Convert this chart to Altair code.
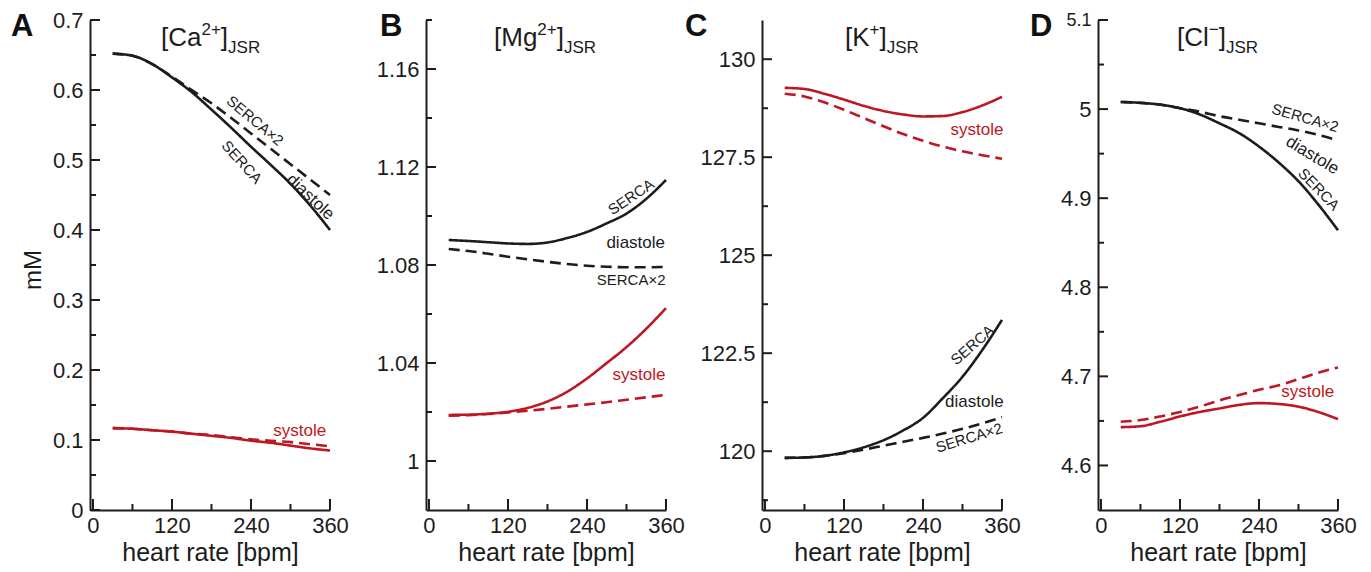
import altair as alt
import pandas as pd

# ---------------- data ----------------
BPM = [30, 60, 90, 120, 150, 180, 210, 240, 270, 300, 330, 360]

# A: [Ca2+]JSR (mM)
CA_DIA_SERCA  = [0.652, 0.649, 0.637, 0.618, 0.597, 0.572, 0.546, 0.519, 0.493, 0.466, 0.435, 0.400]
CA_DIA_SERCA2 = [0.652, 0.649, 0.637, 0.619, 0.600, 0.581, 0.560, 0.538, 0.516, 0.494, 0.472, 0.450]
CA_SYS_SERCA  = [0.117, 0.116, 0.114, 0.112, 0.109, 0.106, 0.103, 0.099, 0.096, 0.092, 0.088, 0.085]
CA_SYS_SERCA2 = [0.117, 0.116, 0.114, 0.112, 0.109, 0.107, 0.104, 0.101, 0.099, 0.097, 0.094, 0.091]

# B: [Mg2+]JSR
MG_DIA_SERCA  = [1.0902, 1.0898, 1.0893, 1.0888, 1.0886, 1.0892, 1.0910, 1.0935, 1.0970, 1.1010, 1.1070, 1.1147]
MG_DIA_SERCA2 = [1.0865, 1.0857, 1.0846, 1.0834, 1.0823, 1.0813, 1.0804, 1.0797, 1.0793, 1.0791, 1.0791, 1.0792]
MG_SYS_SERCA  = [1.0188, 1.0189, 1.0193, 1.0201, 1.0217, 1.0243, 1.0283, 1.0337, 1.0400, 1.0465, 1.0540, 1.0624]
MG_SYS_SERCA2 = [1.0185, 1.0187, 1.0192, 1.0198, 1.0205, 1.0213, 1.0222, 1.0231, 1.0240, 1.0250, 1.0260, 1.0270]

# C: [K+]JSR
K_DIA_SERCA  = [119.83, 119.84, 119.88, 119.97, 120.10, 120.28, 120.53, 120.85, 121.35, 121.90, 122.58, 123.35]
K_DIA_SERCA2 = [119.83, 119.84, 119.88, 119.95, 120.04, 120.14, 120.24, 120.34, 120.45, 120.57, 120.71, 120.87]
K_SYS_SERCA  = [129.27, 129.24, 129.12, 128.97, 128.81, 128.68, 128.59, 128.54, 128.55, 128.65, 128.82, 129.04]
K_SYS_SERCA2 = [129.12, 129.05, 128.90, 128.71, 128.50, 128.29, 128.09, 127.92, 127.77, 127.65, 127.55, 127.46]

# D: [Cl-]JSR
CL_DIA_SERCA  = [5.008, 5.007, 5.005, 5.001, 4.994, 4.984, 4.973, 4.958, 4.940, 4.919, 4.893, 4.864]
CL_DIA_SERCA2 = [5.008, 5.007, 5.005, 5.001, 4.997, 4.992, 4.988, 4.984, 4.980, 4.976, 4.971, 4.965]
CL_SYS_SERCA  = [4.643, 4.644, 4.649, 4.655, 4.660, 4.664, 4.668, 4.670, 4.669, 4.666, 4.660, 4.652]
CL_SYS_SERCA2 = [4.649, 4.651, 4.655, 4.660, 4.666, 4.673, 4.679, 4.685, 4.690, 4.697, 4.704, 4.710]

X_TICKS = [0, 120, 240, 360]
X_MINOR = [60, 180, 300]

A_YTICKS = [0, 0.1, 0.2, 0.3, 0.4, 0.5, 0.6, 0.7]
A_YMINOR = [0.05, 0.15, 0.25, 0.35, 0.45, 0.55, 0.65]
B_YTICKS = [1.0, 1.04, 1.08, 1.12, 1.16]
B_YMINOR = [1.02, 1.06, 1.10, 1.14, 1.18]
C_YTICKS = [120, 122.5, 125, 127.5, 130]
C_YMINOR = [118.75, 121.25, 123.75, 126.25, 128.75]
D_YTICKS = [4.6, 4.7, 4.8, 4.9, 5.0, 5.1]
D_YMINOR = [4.65, 4.75, 4.85, 4.95, 5.05]

# annotations: (text, bpm, value, angle, kind)
A_NOTES = [("SERCA×2", 246, 0.556, 40, "serca"), ("SERCA", 226, 0.497, 48, "serca"),
           ("diastole", 330, 0.447, 43, "dia"), ("systole", 314, 0.113, 0, "sys")]
B_NOTES = [("SERCA", 307, 1.1078, 326, "serca"), ("diastole", 314, 1.089, 0, "dia"),
           ("SERCA×2", 307, 1.0739, 0, "serca"), ("systole", 319, 1.0351, 0, "sys")]
C_NOTES = [("systole", 322, 128.19, 0, "sys"), ("SERCA", 315, 122.71, 319, "serca"),
           ("diastole", 318, 121.26, 0, "dia"), ("SERCA×2", 310, 120.34, 343, "serca")]
D_NOTES = [("SERCA×2", 310, 4.990, 16, "serca"), ("diastole", 321, 4.948, 31, "dia"),
           ("SERCA", 331, 4.910, 46, "serca"), ("systole", 314, 4.682, 0, "sys")]

# ---------------- style ----------------
FONT = "Liberation Sans"
INK = "#1c1c1c"
RED = "#be1622"
W, H = 240, 490
ARIAL = {'[': 278, ']': 278, 'C': 722, 'a': 556, 'M': 833, 'g': 556, 'K': 667, 'l': 222,
         '2': 556, '+': 584, '−': 584, 'J': 500, 'S': 667, 'R': 722}


def tw(s, fs):
    return sum(ARIAL.get(c, 556) for c in s) * fs / 1000.0


def const_text(text, x, y, **kw):
    return alt.Chart(alt.Data(values=[{}])).mark_text(text=text, font=FONT, **kw).encode(
        x=alt.value(x), y=alt.value(y))


def panel(letter, letter_x, head, sup, title_x, series, ydom, ymaj, ymin, yfmt, notes,
          ytitle=False, small_top=None):
    xs = alt.Scale(domain=[-4.5, 360], nice=False, zero=False)
    ys = alt.Scale(domain=ydom, nice=False, zero=False)
    if small_top is not None:
        lfs = {"condition": {"test": f"datum.value > {small_top}", "value": 18}, "value": 22}
    else:
        lfs = 22
    xaxis = alt.Axis(values=X_TICKS, title="heart rate [bpm]", format="d")
    yaxis = alt.Axis(values=ymaj, format=yfmt, title=None, labelFontSize=lfs)

    def X(field):
        return alt.X(field, scale=xs, axis=xaxis)

    def Y(field):
        return alt.Y(field, scale=ys, axis=yaxis)

    rows = []
    for (phase, proto), vals in series.items():
        for b, v in zip(BPM, vals):
            rows.append(dict(bpm=b, value=v, phase=phase, protocol=proto, grp=phase + proto))
    df = pd.DataFrame(rows)

    lines = alt.Chart(df).mark_line(strokeWidth=2.6, interpolate="monotone").encode(
        x=X("bpm:Q"),
        y=Y("value:Q"),
        color=alt.Color("phase:N", scale=alt.Scale(domain=["diastole", "systole"], range=[INK, RED]),
                        legend=None),
        strokeDash=alt.StrokeDash("protocol:N",
                                  scale=alt.Scale(domain=["SERCA", "SERCA×2"], range=[[1, 0], [11, 6]]),
                                  legend=None),
        detail="grp:N",
    )

    def yt(vals, length):
        return alt.Chart(pd.DataFrame({"value": vals})).mark_rule(color=INK, strokeWidth=2).encode(
            y=Y("value:Q"), x=alt.value(0), x2=alt.value(length))

    def xt(vals, length):
        return alt.Chart(pd.DataFrame({"bpm": vals})).mark_rule(color=INK, strokeWidth=2).encode(
            x=X("bpm:Q"), y=alt.value(H), y2=alt.value(H - length))

    layers = [lines, yt(ymaj, 10), yt(ymin, 6), xt(X_TICKS, 11), xt(X_MINOR, 6)]

    nd = pd.DataFrame(notes, columns=["text", "bpm", "value", "angle", "kind"])
    styles = {"serca": (15, INK), "dia": (17, INK), "sys": (17, RED)}
    for kind, (fs, col) in styles.items():
        sub = nd[nd.kind == kind]
        if len(sub) == 0:
            continue
        layers.append(alt.Chart(sub).mark_text(font=FONT, fontSize=fs, color=col, align="center",
                                               baseline="middle").encode(
            x=X("bpm:Q"),
            y=Y("value:Q"),
            text="text:N",
            angle=alt.Angle("angle:Q", scale=None),
        ))

    # title  [X^sup]_JSR
    x0 = title_x
    layers.append(const_text(head, x0, 26, fontSize=26, color=INK, align="left", baseline="alphabetic"))
    x1 = x0 + tw(head, 26)
    layers.append(const_text(sup, x1, 15, fontSize=17, color=INK, align="left", baseline="alphabetic"))
    x2 = x1 + tw(sup, 17)
    layers.append(const_text("]", x2, 26, fontSize=26, color=INK, align="left", baseline="alphabetic"))
    x3 = x2 + tw("]", 26)
    layers.append(const_text("JSR", x3, 33, fontSize=17, color=INK, align="left", baseline="alphabetic"))

    layers.append(const_text(letter, letter_x, 16, fontSize=31, fontWeight="bold", color="#111",
                             align="left", baseline="alphabetic"))
    if ytitle:
        layers.append(const_text("mM", -56, 250, fontSize=24, color=INK, angle=270,
                                 align="center", baseline="middle"))
    return alt.layer(*layers).properties(width=W, height=H)


pA = panel("A", -79, "[Ca", "2+", 71,
           {("diastole", "SERCA"): CA_DIA_SERCA, ("diastole", "SERCA×2"): CA_DIA_SERCA2,
            ("systole", "SERCA"): CA_SYS_SERCA, ("systole", "SERCA×2"): CA_SYS_SERCA2},
           [0, 0.7], A_YTICKS, A_YMINOR, ".1~f", A_NOTES, ytitle=True)
pB = panel("B", -46, "[Mg", "2+", 68,
           {("diastole", "SERCA"): MG_DIA_SERCA, ("diastole", "SERCA×2"): MG_DIA_SERCA2,
            ("systole", "SERCA"): MG_SYS_SERCA, ("systole", "SERCA×2"): MG_SYS_SERCA2},
           [0.98, 1.18], B_YTICKS, B_YMINOR, ".2~f", B_NOTES)
pC = panel("C", -77, "[K", "+", 83,
           {("diastole", "SERCA"): K_DIA_SERCA, ("diastole", "SERCA×2"): K_DIA_SERCA2,
            ("systole", "SERCA"): K_SYS_SERCA, ("systole", "SERCA×2"): K_SYS_SERCA2},
           [118.5, 131], C_YTICKS, C_YMINOR, ".1~f", C_NOTES)
pD = panel("D", -68, "[Cl", "−", 79,
           {("diastole", "SERCA"): CL_DIA_SERCA, ("diastole", "SERCA×2"): CL_DIA_SERCA2,
            ("systole", "SERCA"): CL_SYS_SERCA, ("systole", "SERCA×2"): CL_SYS_SERCA2},
           [4.55, 5.1], D_YTICKS, D_YMINOR, ".1~f", D_NOTES, small_top=5.05)

chart = alt.hconcat(pA, pB, pC, pD, spacing=96, bounds="flush").properties(
    padding={"left": 3, "top": 1, "right": 5, "bottom": 5}
).configure_axis(
    labelFont=FONT, titleFont=FONT, labelColor=INK, titleColor=INK,
    labelFontSize=22, titleFontSize=25, titleFontWeight="normal",
    domainColor=INK, domainWidth=2, ticks=False, tickSize=0, grid=False,
    labelFlush=False, labelOverlap=False, labelPadding=7, titlePadding=4,
).configure_axisX(labelPadding=5).configure_view(stroke=None)

chart.save("out.html", embed_options={"renderer": "svg", "actions": False})
